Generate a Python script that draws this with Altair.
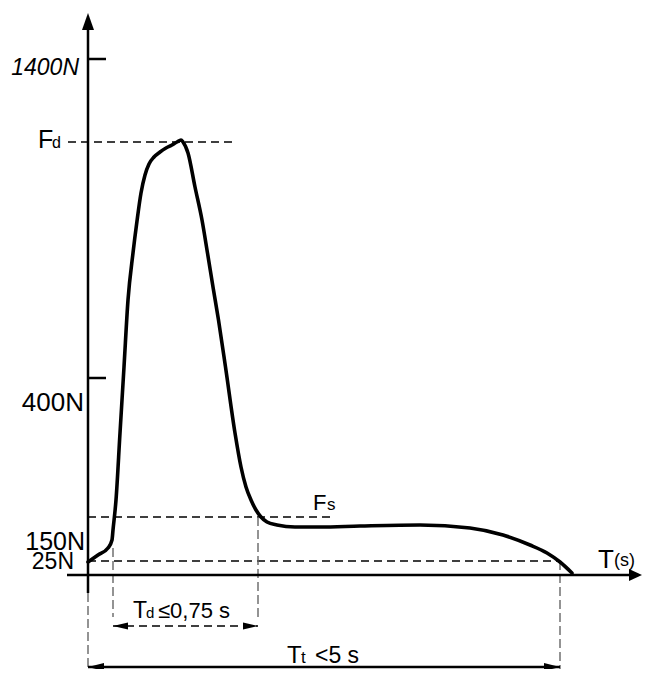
import altair as alt
import pandas as pd

# ---- schematic coordinates (t: time-like units, f: force-like units) ----
curve_t = [0, 10, 20, 24, 25, 28, 32, 36, 40, 45, 49, 53, 57, 61, 66, 72, 78, 84, 89, 93, 95, 100,
           107, 114, 119.5, 125, 130.5, 137.5, 147, 153, 158, 163, 168, 173, 179, 189, 207, 232,
           272, 332, 382, 415, 442, 459, 472, 484]
curve_f = [13, 20, 27, 35, 45, 75, 142, 208, 275, 322, 354, 382, 400, 411, 418, 423, 427, 430, 433,
           435, 433, 422, 388, 355, 322, 288, 255, 208, 142, 108, 88, 75, 65, 58, 53, 50, 48, 48,
           49, 50, 47, 40, 30, 22, 13, 2]

# dashed guide lines
guide_t  = [-20, 0, 0, 25, 25, 170, 0, 472]
guide_t2 = [145, 244, 472, 170, 25, 170, 0, 472]
guide_f  = [433, 58, 14, -51, 27, 58, -18, 14]
guide_f2 = [433, 58, 14, -51, -42, -42, -94, -94]
guide_k  = ["h", "h", "h", "h", "v", "v", "v", "v"]

# solid axis lines, ticks and the total-time arrow
axis_t  = [0, -21, 0, 0, 0]
axis_t2 = [0, 542, 18, 18, 472]
axis_f  = [-18, 0, 516, 197, -92]
axis_f2 = [550, 0, 516, 197, -92]

# axis value labels
lab_text  = ["1400N", "400N", "150N", "25N"]
lab_t     = [-9, -4, -3, -14]
lab_f     = [500, 164, 25, 6]
lab_size  = [23, 26, 25, 23]

big_text = ["F", "F", "T", "T", "T", "≤0,75 s", "<5 s"]
big_t    = [-50, 225, 510, 45, 199, 70, 227]
big_f    = [427, 65, 7, -43, -88, -43, -88]
big_size = [25, 22, 26, 23, 24, 22, 23]

sub_text = ["d", "s", "(s)", "d", "t"]
sub_t    = [-36, 239, 526, 58, 213]
sub_f    = [427, 65, 9, -43, -88]
sub_size = [16, 17, 18, 15, 17]

# arrow heads: tip locations
arr_t   = [0, 554, 25, 170, 0, 472]
arr_f   = [562, 0, -51, -51, -92, -92]

W, H = 635, 661
xs = alt.Scale(domain=[-80, W - 80], nice=False, zero=False)
ys = alt.Scale(domain=[567 - H, 567], nice=False, zero=False)
X = lambda f: alt.X(f, type="quantitative", scale=xs, axis=None)
Y = lambda f: alt.Y(f, type="quantitative", scale=ys, axis=None)

curve = pd.DataFrame({"t": curve_t, "f": curve_f, "o": range(len(curve_t))})
guides = pd.DataFrame({"t": guide_t, "t2": guide_t2, "f": guide_f, "f2": guide_f2, "k": guide_k})
axes = pd.DataFrame({"t": axis_t, "t2": axis_t2, "f": axis_f, "f2": axis_f2})
labs = pd.DataFrame({"text": lab_text, "t": lab_t, "f": lab_f, "size": lab_size})
bigs = pd.DataFrame({"text": big_text, "t": big_t, "f": big_f, "size": big_size})
subs = pd.DataFrame({"text": sub_text, "t": sub_t, "f": sub_f, "size": sub_size})
arrs = pd.DataFrame({"t": arr_t, "f": arr_f})

FONT = "Liberation Sans"

line = alt.Chart(curve).mark_line(color="black", strokeWidth=3.6, strokeJoin="round",
                                  strokeCap="round", interpolate="monotone").encode(
    x=X("t"), y=Y("f"), order="o:Q")

hdash = alt.Chart(guides[guides.k == "h"]).mark_rule(
    color="black", strokeWidth=1.4, strokeDash=[8, 5]).encode(
    x=X("t"), x2="t2", y=Y("f"), y2="f2")
vdash = alt.Chart(guides[guides.k == "v"]).mark_rule(
    color="#666666", strokeWidth=1.4, strokeDash=[9, 4]).encode(
    x=X("t"), x2="t2", y=Y("f"), y2="f2")

axl = alt.Chart(axes).mark_rule(color="black", strokeWidth=2.5).encode(
    x=X("t"), x2="t2", y=Y("f"), y2="f2")

paths = [
    "M0,0L-6,17L6,17Z",
    "M0,0L-13,-6L-13,6Z",
    "M0,0L15,-3.5L15,3.5Z",
    "M0,0L-15,-3.5L-15,3.5Z",
    "M0,0L16,-4L16,4Z",
    "M0,0L-16,-4L-16,4Z",
]
heads = []
for i, p in enumerate(paths):
    heads.append(alt.Chart(arrs.iloc[[i]]).mark_point(
        shape=p, size=4, filled=True, color="black", opacity=1, strokeWidth=0).encode(
        x=X("t"), y=Y("f")))

lab_it = alt.Chart(labs.iloc[[0]]).mark_text(align="right", baseline="alphabetic", font=FONT,
                                             fontStyle="italic", color="black").encode(
    x=X("t"), y=Y("f"), text="text:N", size=alt.Size("size:Q", scale=None, legend=None))
lab_rg = alt.Chart(labs.iloc[1:]).mark_text(align="right", baseline="alphabetic", font=FONT,
                                            color="black").encode(
    x=X("t"), y=Y("f"), text="text:N", size=alt.Size("size:Q", scale=None, legend=None))

bigl = alt.Chart(bigs).mark_text(align="left", baseline="alphabetic", font=FONT,
                                 color="black").encode(
    x=X("t"), y=Y("f"), text="text:N", size=alt.Size("size:Q", scale=None, legend=None))
subl = alt.Chart(subs).mark_text(align="left", baseline="alphabetic", font=FONT,
                                 color="black").encode(
    x=X("t"), y=Y("f"), text="text:N", size=alt.Size("size:Q", scale=None, legend=None))

chart = alt.layer(hdash, vdash, axl, line, *heads, lab_it, lab_rg, bigl, subl).properties(
    width=W, height=H, padding=0, autosize=alt.AutoSizeParams(type="none")
).configure_view(stroke=None)

chart.save("out.html", embed_options={"renderer": "svg", "actions": False})
